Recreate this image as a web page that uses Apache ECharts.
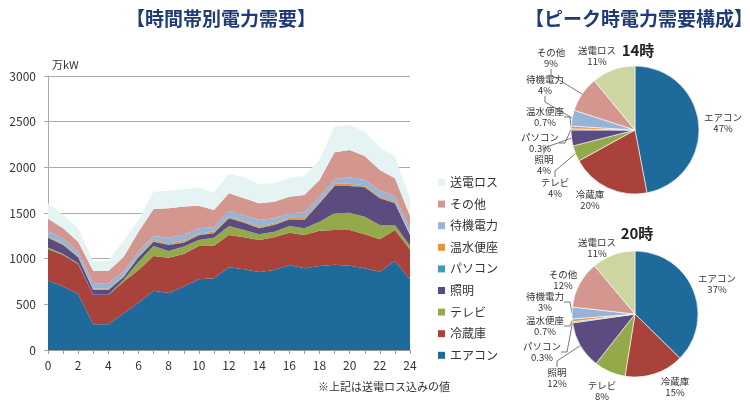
<!DOCTYPE html>
<html><head><meta charset="utf-8">
<script src="https://cdn.jsdelivr.net/npm/echarts@6/dist/echarts.min.js"></script>
<style>html,body{margin:0;padding:0;background:#fff}#c{width:750px;height:408px}</style>
</head><body><div id="c"></div>
<script>
const hours = ['0','1','2','3','4','5','6','7','8','9','10','11','12','13','14','15','16','17','18','19','20','21','22','23','24'];
const yTicks = [0, 500, 1000, 1500, 2000, 2500, 3000];
const seriesNames = ['エアコン','冷蔵庫','テレビ','照明','パソコン','温水便座','待機電力','その他','送電ロス'];
const aircon   = [762,694,613,281,281,401,518,650,624,694,774,785,905,883,854,876,931,894,920,934,923,894,858,975,774];
const fridge   = [342,346,329,321,321,347,358,379,386,357,365,357,354,351,351,358,354,365,387,380,391,373,354,339,326];
const tv       = [18,10,8,3,3,18,91,110,73,81,66,88,99,80,62,62,73,73,98,183,190,193,157,55,42];
const lighting = [106,100,65,52,52,30,48,47,67,43,51,48,84,80,65,73,70,92,201,299,292,321,292,237,117];
const pc       = [5,5,5,5,5,5,5,6,6,6,6,6,6,6,6,6,6,6,6,7,7,7,7,7,5];
const toilet   = [10,10,8,10,10,10,12,14,14,14,14,14,14,13,13,13,14,14,14,17,17,16,15,15,10];
const standby  = [64,58,49,58,58,47,45,42,60,64,56,45,60,62,73,54,47,65,53,52,71,58,62,51,58];
const other    = [131,109,109,135,135,157,219,296,321,311,248,190,194,186,182,182,184,188,183,292,299,262,226,201,138];
const loss     = [172,146,146,102,115,175,128,190,192,190,198,193,211,230,212,201,206,208,219,282,274,267,245,237,190];
const areaValues = [aircon, fridge, tv, lighting, pc, toilet, standby, other, loss];
const areaColors = ['#1d6a9b','#a8423b','#93a94a','#5b4b80','#3b9cbf','#e8933a','#95b4d6','#d4978f','#e5f3f3'];

const pieNames = ['エアコン','冷蔵庫','テレビ','照明','パソコン','温水便座','待機電力','その他','送電ロス'];
const pie14 = [47,20,4,4,0.3,0.7,4,9,11];
const pie20 = [37,15,8,12,0.3,0.7,3,12,11];
const pieColors = ['#1d6a9b','#a8423b','#93a94a','#5b4b80','#3b9cbf','#e8933a','#95b4d6','#d4978f','#cdd6a1'];
// label offsets from pie centre (layout only)
const labelOff14 = [[88,-7],[-45,70],[-80,58],[-91,35],[-95,13],[-90,-13],[-90,-45],[-84,-72],[-38,-74]];
const labelOff20 = [[82,-30],[40,73],[-33,77],[-78,64],[-93,38],[-90,12],[-90,-12],[-72,-34],[-38,-66]];
const leader14 = [false,false,true,true,true,true,true,true,false];
const leader20 = [false,false,false,true,true,true,true,false,false];

const FONT = '"Noto Sans CJK JP", "Noto Sans", sans-serif';
const chart = echarts.init(document.getElementById('c'), null, {renderer:'canvas'});

const series = seriesNames.map((n,i)=>({
  name:n, type:'line', stack:'total', data: areaValues[i],
  symbol:'none', lineStyle:{width:0}, areaStyle:{color:areaColors[i], opacity:1},
  itemStyle:{color:areaColors[i]}, z:2
}));

function pieSeries(vals, center, radius, offs, leaders){
  return {
    type:'pie', center:center, radius:radius, startAngle:90, clockwise:true,
    avoidLabelOverlap:false,
    data: pieNames.map((n,i)=>({name:n, value:vals[i], itemStyle:{color:pieColors[i]}, labelLine:{show:leaders[i]}})),
    itemStyle:{borderColor:'#fff', borderWidth:0.6},
    label:{show:true, formatter:'{b}\n{c}%', fontSize:9.5, lineHeight:11, color:'#333', fontFamily:FONT, align:'center', overflow:'none'},
    labelLine:{show:true, length:6, length2:6, lineStyle:{color:'#555', width:0.8}},
    labelLayout:function(p){
      const o = offs[p.dataIndex];
      return {x:center[0]+o[0], y:center[1]+o[1], align:'center', verticalAlign:'middle'};
    },
    emphasis:{disabled:true}, silent:true
  };
}
series.push(pieSeries(pie14, [635,130], 64, labelOff14, leader14));
series.push(pieSeries(pie20, [635,314], 63, labelOff20, leader20));

chart.setOption({
  animation:false,
  textStyle:{fontFamily:FONT},
  title:[
    {text:'【時間帯別電力需要】', left:216, top:4, textAlign:'center', textStyle:{fontSize:19, fontWeight:'bold', color:'#1f3b78', fontFamily:FONT}},
    {text:'【ピーク時電力需要構成】', left:634, top:4, textAlign:'center', textStyle:{fontSize:19, fontWeight:'bold', color:'#1f3b78', fontFamily:FONT}},
    {text:'14時', left:633, top:38, textAlign:'center', textStyle:{fontSize:15, fontWeight:'bold', color:'#222', fontFamily:FONT}},
    {text:'20時', left:632, top:221, textAlign:'center', textStyle:{fontSize:15, fontWeight:'bold', color:'#222', fontFamily:FONT}}
  ],
  graphic:[
    {type:'text', left:52, top:59, style:{text:'万kW', fontSize:11, fill:'#333', fontFamily:FONT}},
    {type:'text', left:318, top:381, style:{text:'※上記は送電ロス込みの値', fontSize:11, fill:'#333', fontFamily:FONT}}
  ],
  legend:{
    orient:'vertical', left:433, top:171, itemWidth:7, itemHeight:7, itemGap:8.6,
    icon:'rect', data: seriesNames.slice().reverse(),
    textStyle:{fontSize:12, color:'#333', lineHeight:13, fontFamily:FONT}
  },
  grid:{left:48, right:340, top:76, bottom:58, containLabel:false},
  xAxis:{
    type:'category', boundaryGap:false, data:hours,
    axisLine:{lineStyle:{color:'#999'}},
    axisTick:{show:true, interval:0, length:4, lineStyle:{color:'#999'}},
    axisLabel:{interval:1, color:'#333', fontSize:12, margin:9, fontFamily:FONT}
  },
  yAxis:{
    type:'value', min:yTicks[0], max:yTicks[yTicks.length-1], interval:500,
    axisLine:{show:true, lineStyle:{color:'#aaa'}},
    axisTick:{show:true, length:4, lineStyle:{color:'#aaa'}},
    axisLabel:{color:'#333', fontSize:12, margin:12, fontFamily:FONT, formatter:function(v){return String(v);}},
    splitLine:{lineStyle:{color:'#aaa', width:1}}
  },
  series: series
});
</script></body></html>
